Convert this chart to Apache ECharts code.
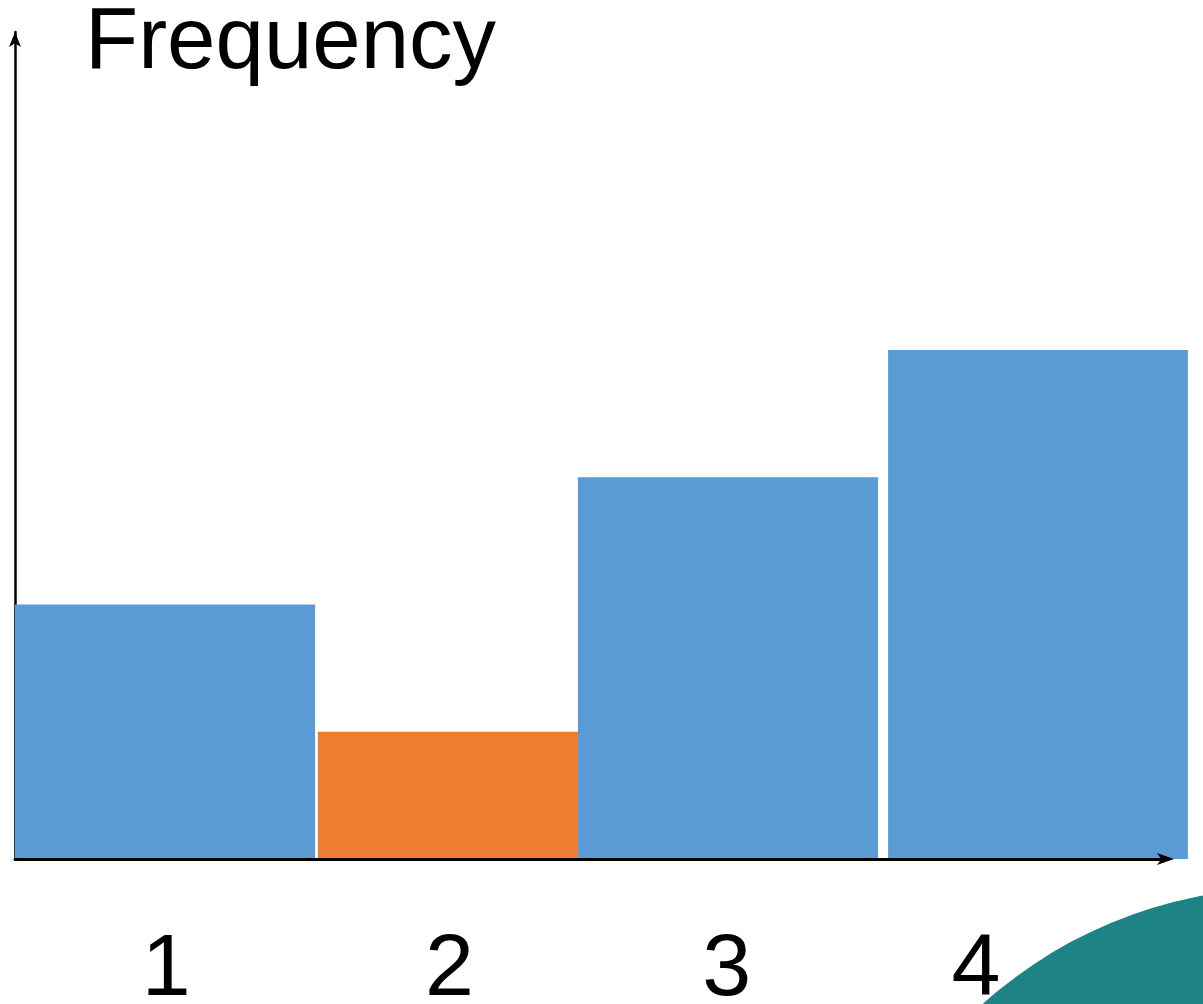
<!DOCTYPE html>
<html>
<head>
<meta charset="utf-8">
<style>
  html, body { margin: 0; padding: 0; background: #ffffff; }
  #chart { width: 1203px; height: 1004px; }
</style>
<script src="https://cdn.jsdelivr.net/npm/echarts@6/dist/echarts.min.js"></script>
</head>
<body>
<div id="chart"></div>
<script>
// Histogram data
const categories = ['1', '2', '3', '4'];
const frequencies = [2, 1, 3, 4];
const barColors = ['#5b9bd5', '#ed7d31', '#5b9bd5', '#5b9bd5'];

// Horizontal extent of each bar, as fractions of the category band width,
// measured from the band centre.
const BAR_SPANS = [
  [-0.500, 0.541],
  [-0.449, 0.453],
  [-0.547, 0.494],
  [-0.471, 0.569]
];
// Horizontal nudges for each category label (rich-text padding).
const LABEL_PAD = [
  [0, 0, 0, 14],
  [0, 0, 0, 4],
  [0, 18, 0, 0],
  [0, 96, 0, 0]
];

const FONT = '"Liberation Sans", Arial, sans-serif';

const rich = {};
LABEL_PAD.forEach((p, i) => {
  rich['l' + i] = { fontSize: 88, fontFamily: FONT, color: '#000', padding: p };
});

const chart = echarts.init(document.getElementById('chart'), null, { renderer: 'canvas' });

chart.setOption({
  animation: false,
  backgroundColor: '#ffffff',
  title: {
    text: 'Frequency',
    left: 85,
    top: 1,
    padding: 0,
    textStyle: { fontSize: 87, fontWeight: 'normal', color: '#000', fontFamily: FONT }
  },
  grid: { left: 15, right: 35, top: 32, bottom: 145, outerBoundsMode: 'none', containLabel: false },
  xAxis: {
    type: 'category',
    data: categories,
    boundaryGap: true,
    z: 5,
    axisLine: {
      show: true,
      lineStyle: { color: '#000', width: 3 },
      symbol: ['none', 'arrow'],
      symbolSize: [9, 17],
      symbolOffset: [0, 6]
    },
    axisTick: { show: false },
    splitLine: { show: false },
    axisLabel: {
      margin: 68,
      formatter: (value, idx) => '{l' + idx + '|' + value + '}',
      rich: rich
    }
  },
  yAxis: {
    type: 'value',
    min: 0,
    max: 6.5,
    z: 0,
    axisLine: {
      show: true,
      lineStyle: { color: '#000', width: 2.5 },
      symbol: ['none', 'arrow'],
      symbolSize: [9, 15]
    },
    axisTick: { show: false },
    axisLabel: { show: false },
    splitLine: { show: false }
  },
  series: [{
    type: 'custom',
    clip: false,
    z: 2,
    data: categories.map((c, i) => [i, frequencies[i]]),
    renderItem: (params, api) => {
      const i = api.value(0);
      const v = api.value(1);
      const top = api.coord([i, v]);
      const base = api.coord([i, 0]);
      const band = api.size([1, 0])[0];
      const span = BAR_SPANS[i];
      const x0 = base[0] + span[0] * band;
      const x1 = base[0] + span[1] * band;
      return {
        type: 'rect',
        shape: { x: x0, y: top[1], width: x1 - x0, height: base[1] - top[1] },
        style: { fill: barColors[i] }
      };
    }
  }],
  graphic: [{
    type: 'circle',
    z: 10,
    shape: { cx: 1285, cy: 1340, r: 452 },
    style: { fill: '#1e8385' }
  }]
});
</script>
</body>
</html>
